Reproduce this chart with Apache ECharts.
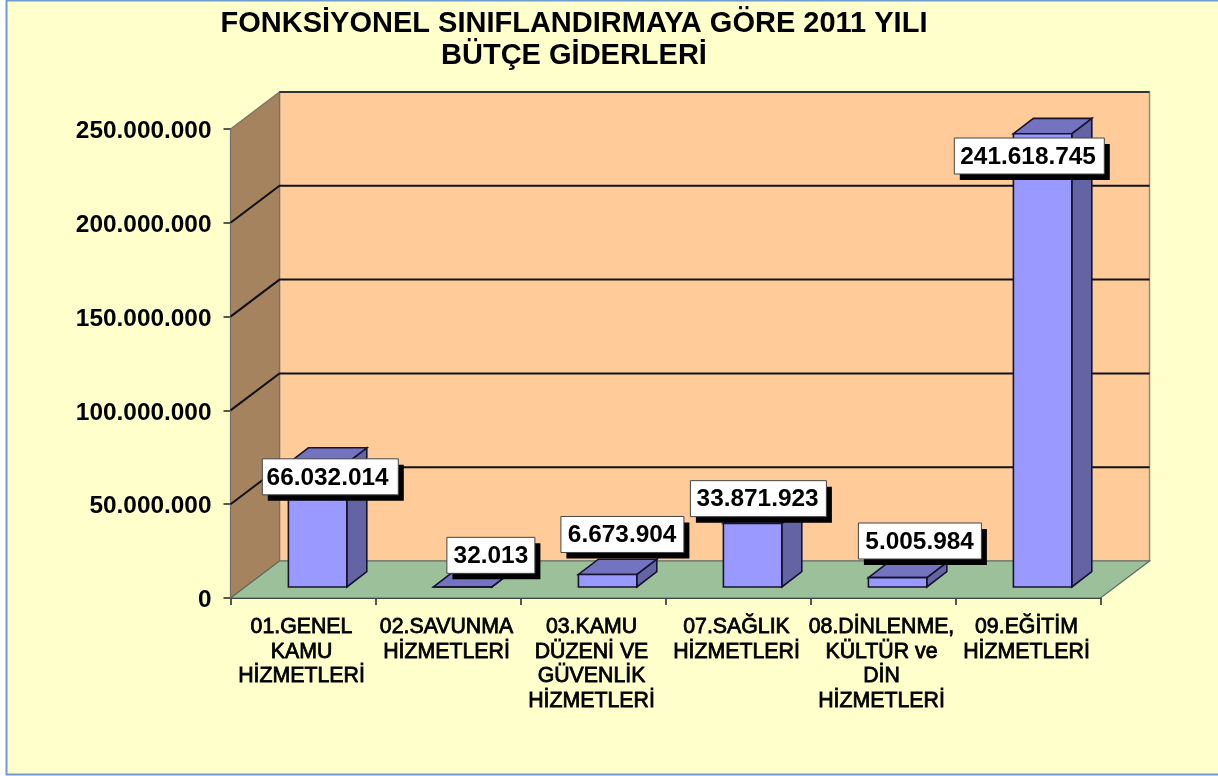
<!DOCTYPE html>
<html><head><meta charset="utf-8">
<style>html,body{margin:0;padding:0;background:#fff}#c{width:1218px;height:776px}</style>
<script src="https://cdn.jsdelivr.net/npm/echarts@6/dist/echarts.min.js"></script>
</head><body><div id="c"></div>
<script>
var categories = ['01.GENEL\nKAMU\nHİZMETLERİ','02.SAVUNMA\nHİZMETLERİ','03.KAMU\nDÜZENİ VE\nGÜVENLİK\nHİZMETLERİ','07.SAĞLIK\nHİZMETLERİ','08.DİNLENME,\nKÜLTÜR ve\nDİN\nHİZMETLERİ','09.EĞİTİM\nHİZMETLERİ'];
var values = [66032014, 32013, 6673904, 33871923, 5005984, 241618745];
var gridValues = [50000000, 100000000, 150000000, 200000000];
var yMax = 250000000;
var fmt = function (v) { return String(v).replace(/\B(?=(\d{3})+$)/g, '.'); };

// placement of the hand-moved value boxes, relative to the top of each bar's front
var labelDx = [12.7, 28.3, 14.8, 5.8, 22.3, -13.3];
var labelDy = [13.7, -31.6, -40, -24.8, -36.6, 22.3];
var boxW = [136, 88, 123, 136, 123, 150];
var textDx = [-2.7, 0, -0.3, -0.8, -0.3, -1.2];
var DX = 49, DY = -37;          // wall depth
var FX = 14.6, FY = -11;        // bar set back from front of floor
var SX = 20, SY = -15.3;        // bar depth
var BW = 58.4;

function poly(pts, fill, stroke, lw) {
  return { type: 'polygon', shape: { points: pts }, style: { fill: fill, stroke: stroke || null, lineWidth: lw || 0 } };
}
function wallItem(params, api) {
  var band = api.size([1, 0])[0];
  var l0 = api.coord([0, 0]), t0 = api.coord([0, yMax]);
  var r0 = api.coord([categories.length - 1, 0]);
  var xl = l0[0] - band / 2, xr = r0[0] + band / 2, yb = l0[1], yt = t0[1];
  return { type: 'group', children: [
    poly([[xl + DX, yt + DY], [xr + DX, yt + DY], [xr + DX, yb + DY], [xl + DX, yb + DY]], '#FFCC99', '#8a8a80', 1.5),
    poly([[xl, yb], [xl + DX, yb + DY], [xl + DX, yt + DY], [xl, yt]], '#A5835F', '#77706a', 1.2),
    poly([[xl, yb], [xr, yb], [xr + DX, yb + DY], [xl + DX, yb + DY]], '#9CC19A', '#5c6b5c', 1.2),
    { type: 'line', shape: { x1: xl + DX, y1: yt + DY, x2: xr + DX, y2: yt + DY }, style: { stroke: '#333', lineWidth: 2 } }
  ] };
}
function gridItem(params, api) {
  var band = api.size([1, 0])[0];
  var a = api.coord([0, api.value(0)]), b = api.coord([categories.length - 1, api.value(0)]);
  var xl = a[0] - band / 2, xr = b[0] + band / 2, y = a[1];
  return { type: 'group', children: [
    { type: 'polyline', shape: { points: [[xl, y], [xl + DX, y + DY], [xr + DX, y + DY]] }, style: { fill: null, stroke: '#111', lineWidth: 2 } }
  ] };
}
function barItem(params, api) {
  var i = api.value(0), v = api.value(1);
  var p = api.coord([i, v]), b = api.coord([i, 0]);
  var x0 = b[0] + FX - BW / 2, x1 = x0 + BW, yb = b[1] + FY, yt = p[1] + FY;
  var st = '#14142e', lw = 1.6, ch = [];
  ch.push(poly([[x1, yb], [x1 + SX, yb + SY], [x1 + SX, yt + SY], [x1, yt]], '#6464A4', st, lw));
  ch.push(poly([[x0, yt], [x1, yt], [x1 + SX, yt + SY], [x0 + SX, yt + SY]], '#7373BF', st, lw));
  ch.push(poly([[x0, yb], [x1, yb], [x1, yt], [x0, yt]], '#9999FF', st, lw));
  return { type: 'group', children: ch };
}
function labelItem(params, api) {
  var i = api.value(0), v = api.value(1);
  var p = api.coord([i, v]);
  var cx = p[0] + FX + labelDx[i], cy = p[1] + FY + labelDy[i];
  var w = boxW[i], h = 36;
  return { type: 'group', children: [
    { type: 'rect', shape: { x: cx - w / 2 + 5.5, y: cy - h / 2 + 6, width: w, height: h }, style: { fill: '#000' } },
    { type: 'rect', shape: { x: cx - w / 2, y: cy - h / 2, width: w, height: h }, style: { fill: '#fff', stroke: '#444', lineWidth: 1 } },
    { type: 'text', x: cx + textDx[i], y: cy + 1, style: { text: fmt(v), fill: '#000', font: 'bold 24.4px "Liberation Sans", Arial, sans-serif', textAlign: 'center', textVerticalAlign: 'middle' } }
  ] };
}
var barData = values.map(function (v, i) { return [i, v]; });
var chart = echarts.init(document.getElementById('c'), null, { renderer: 'canvas' });
chart.setOption({
  animation: false,
  backgroundColor: '#fff',
  graphic: [{ type: 'rect', z: -10, shape: { x: 6.5, y: 0.5, width: 1214, height: 774 }, style: { fill: '#FFFFCC', stroke: '#6F9BD2', lineWidth: 2 } }],
  title: { text: 'FONKSİYONEL SINIFLANDIRMAYA GÖRE 2011 YILI\nBÜTÇE GİDERLERİ', left: 569, top: 3, textAlign: 'center',
    textStyle: { fontFamily: '"Liberation Sans", Arial, sans-serif', fontWeight: 'bold', fontSize: 29, lineHeight: 32, color: '#000' } },
  grid: { left: 230.5, right: 117.5, top: 129, bottom: 178, containLabel: false },
  xAxis: { type: 'category', data: categories,
    axisLine: { show: true, lineStyle: { color: '#222', width: 2 } },
    axisTick: { show: true, length: 7, lineStyle: { color: '#222', width: 1.5 } },
    axisLabel: { interval: 0, margin: 17, color: '#000', fontFamily: '"Liberation Sans", Arial, sans-serif', fontWeight: 'normal', fontSize: 21.3, lineHeight: 24.5, textBorderColor: '#000', textBorderWidth: 0.8, padding: [0, 3, 0, 0] } },
  yAxis: { type: 'value', min: 0, max: yMax, interval: 50000000,
    axisLine: { show: true, lineStyle: { color: '#555', width: 1.5 } },
    axisTick: { show: true, length: 7, lineStyle: { color: '#222', width: 1.5 } },
    splitLine: { show: false },
    axisLabel: { margin: 19, color: '#000', fontFamily: '"Liberation Sans", Arial, sans-serif', fontWeight: 'bold', fontSize: 24.4, verticalAlign: 'top', lineHeight: 5, formatter: fmt } },
  series: [
    { type: 'custom', clip: false, z: 1, renderItem: wallItem, data: [[0, yMax]], silent: true },
    { type: 'custom', clip: false, z: 2, renderItem: gridItem, data: gridValues.map(function (v) { return [v]; }), encode: { y: 0 }, silent: true },
    { type: 'custom', clip: false, z: 3, renderItem: barItem, data: barData, encode: { x: 0, y: 1 } },
    { type: 'custom', clip: false, z: 4, renderItem: labelItem, data: barData, encode: { x: 0, y: 1 } }
  ]
});
</script></body></html>
